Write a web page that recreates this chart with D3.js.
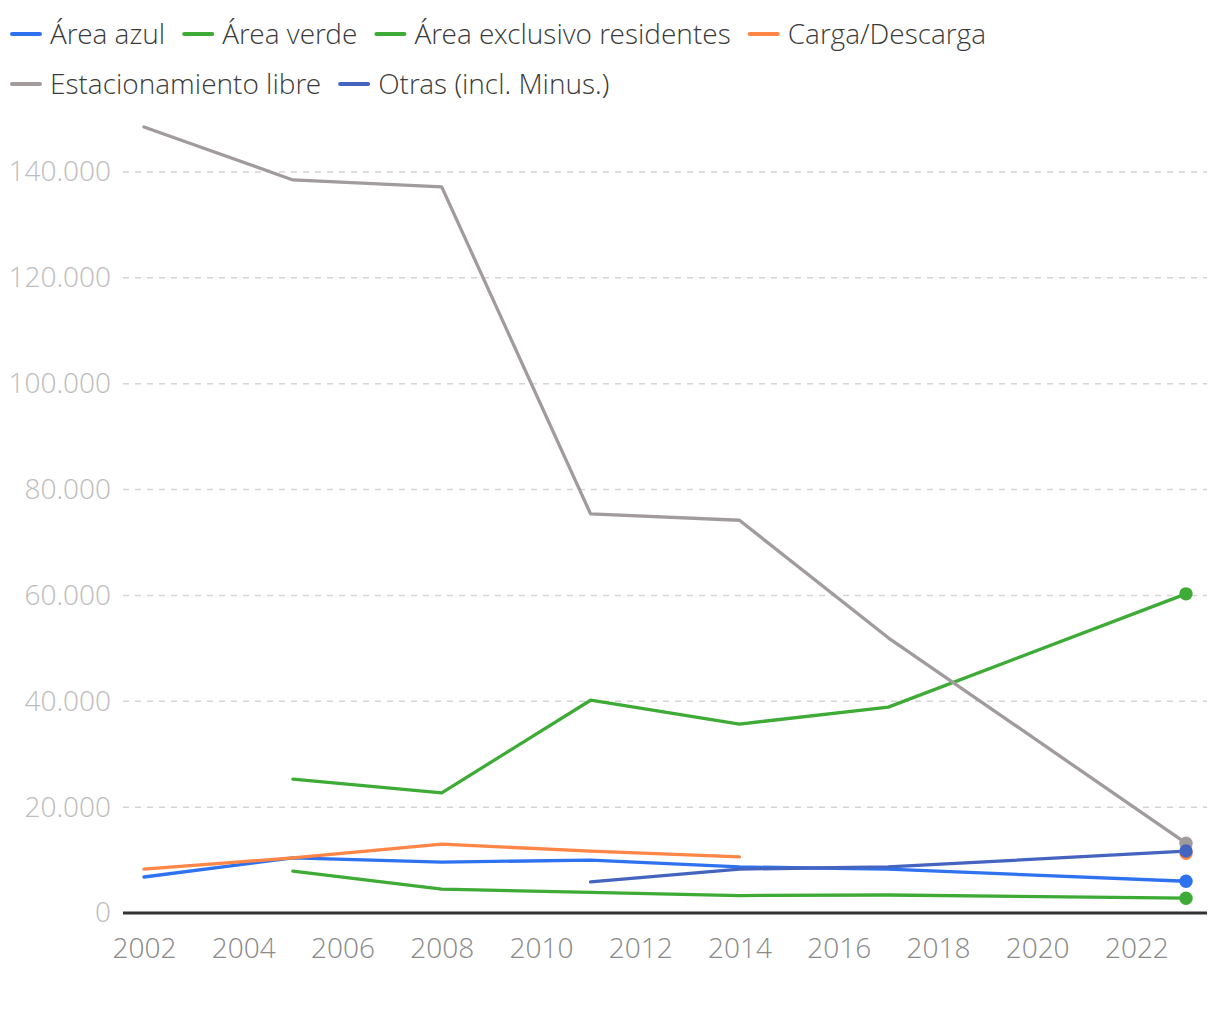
<!DOCTYPE html>
<html><head><meta charset="utf-8">
<script src="https://cdn.jsdelivr.net/npm/d3@7"></script>
<style>
body{margin:0;background:#fff;}
svg{font-family:"Open Sans Light","Open Sans",sans-serif;}
</style></head>
<body><svg id="c" width="1220" height="1020"></svg>
<script>
const years = [2002, 2005, 2008, 2011, 2014, 2017, 2023];
const seriesNames = ["Área azul", "Área verde", "Área exclusivo residentes", "Carga/Descarga", "Estacionamiento libre", "Otras (incl. Minus.)"];
const seriesColors = ["#2e72f0", "#3dab36", "#3dab36", "#ff8646", "#a19b9c", "#4464bf"];
const areaAzul = [6800, 10400, 9600, 10000, 8700, 8300, 6000];
const areaVerde = [null, 25300, 22700, 40200, 35700, 38900, 60300];
const areaResidentes = [null, 7900, 4500, 3900, 3300, 3400, 2800];
const cargaDescarga = [8300, 10400, 13000, 11700, 10600, null, 11300];
const estacionamientoLibre = [148500, 138500, 137200, 75400, 74200, 52000, 13200];
const otras = [null, null, null, 5900, 8300, 8700, 11700];
const seriesValues = [areaAzul, areaVerde, areaResidentes, cargaDescarga, estacionamientoLibre, otras];
const yTicks = [0, 20000, 40000, 60000, 80000, 100000, 120000, 140000];
const xTicks = [2002, 2004, 2006, 2008, 2010, 2012, 2014, 2016, 2018, 2020, 2022];

const svg = d3.select("#c");
const x = d3.scaleLinear().domain([2002, 2023]).range([144, 1186]);
const y = d3.scaleLinear().domain([0, 140000]).range([913, 172]);
const fmt = d3.formatLocale({decimal: ",", thousands: ".", grouping: [3], currency: ["", ""]}).format(",d");

// grid
const yAxis = d3.axisLeft(y).tickValues(yTicks).tickFormat(fmt).tickSize(0).tickPadding(12);
const gy = svg.append("g").attr("transform", "translate(123,0)").call(yAxis);
gy.select(".domain").remove();
gy.attr("font-family", null);
gy.selectAll("text").attr("fill", "#bdbdbd").attr("font-size", 28);
svg.append("g").selectAll("line").data(yTicks.filter(d => d > 0)).join("line")
  .attr("x1", 123).attr("x2", 1207).attr("y1", d => y(d)).attr("y2", d => y(d))
  .attr("stroke", "#d4d4d4").attr("stroke-width", 1.5).attr("stroke-dasharray", "6,6");

const xAxis = d3.axisBottom(x).tickValues(xTicks).tickFormat(d3.format("d")).tickSize(0).tickPadding(25);
const gx = svg.append("g").attr("transform", "translate(0,913)").call(xAxis);
gx.select(".domain").remove();
gx.attr("font-family", null);
gx.selectAll("text").attr("fill", "#8a8a8a").attr("font-size", 28);

// lines
const line = d3.line().defined(d => d.v != null).x(d => x(d.year)).y(d => y(d.v));
seriesValues.forEach((vals, i) => {
  const data = years.map((yr, j) => ({year: yr, v: vals[j]}));
  svg.append("path").datum(data).attr("d", line).attr("fill", "none")
    .attr("stroke", seriesColors[i]).attr("stroke-width", 3.3)
    .attr("stroke-linejoin", "round").attr("stroke-linecap", "round");
});
// end dots
const dotOrder = [2, 0, 1, 3, 4, 5];
dotOrder.forEach(i => {
  const vals = seriesValues[i];
  const last = vals.length - 1;
  svg.append("circle").attr("cx", x(years[last])).attr("cy", y(vals[last])).attr("r", 6.7)
    .attr("fill", seriesColors[i]);
});

// baseline
svg.append("line").attr("x1", 123).attr("x2", 1207).attr("y1", y(0)).attr("y2", y(0))
  .attr("stroke", "#333").attr("stroke-width", 3);

// legend
const rows = [[0, 1, 2, 3], [4, 5]];
rows.forEach((row, r) => {
  let cx = 12;
  const cy = 34 + r * 50;
  row.forEach(i => {
    svg.append("line").attr("x1", cx).attr("x2", cx + 28).attr("y1", cy).attr("y2", cy)
      .attr("stroke", seriesColors[i]).attr("stroke-width", 4).attr("stroke-linecap", "round");
    const t = svg.append("text").attr("x", cx + 38).attr("y", cy).attr("dy", "0.35em")
      .attr("font-size", 28).attr("fill", "#3a3a3a").text(seriesNames[i]);
    cx += 38 + t.node().getComputedTextLength() + 19;
  });
});
</script></body></html>
